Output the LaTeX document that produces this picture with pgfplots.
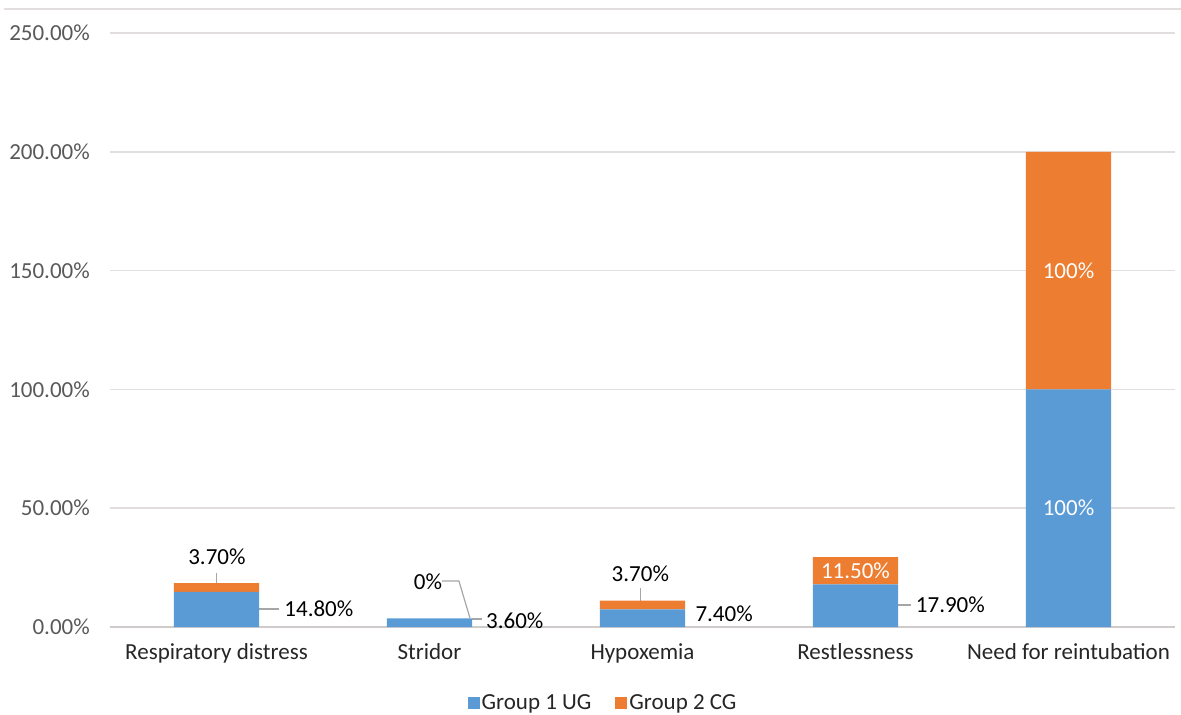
\documentclass[border=0pt]{standalone}
\usepackage{fontspec}
\setmainfont{Carlito}
\usepackage{pgfplots}
\pgfplotsset{compat=1.18}
\definecolor{ugblue}{HTML}{5B9BD5}
\definecolor{cgorange}{HTML}{ED7D31}
\definecolor{gridgray}{HTML}{E3DEDE}
\definecolor{axisgray}{HTML}{D0CBCB}
\definecolor{ticktext}{HTML}{595959}
\definecolor{leadgray}{HTML}{A6A6A6}
\tikzset{lbl/.style={font=\fontsize{23bp}{27bp}\selectfont, inner sep=0pt, text=black},
  ldr/.style={draw=leadgray, line width=1.2bp}}
\begin{document}
\begin{tikzpicture}
\path[use as bounding box] (0,0) rectangle (1181bp,715bp);
\draw[gridgray, line width=2bp] (4bp,706bp) -- (1181bp,706bp);
\begin{axis}[
  at={(110bp,88bp)}, anchor=south west,
  scale only axis, width=1065bp, height=594bp,
  ybar stacked, bar width=0.4,
  xmin=-0.5, xmax=4.5, ymin=0, ymax=250,
  xtick={0,1,2,3,4},
  xticklabels={Respiratory distress,Stridor,Hypoxemia,Restlessness,Need for reintubation},
  ytick={0,50,100,150,200,250},
  yticklabels={0.00\%,50.00\%,100.00\%,150.00\%,200.00\%,250.00\%},
  major tick length=0pt,
  axis x line*=bottom, axis y line*=left,
  x axis line style={draw=axisgray, line width=1.5bp},
  y axis line style={draw=none},
  ymajorgrids, grid style={draw=gridgray, line width=1.5bp},
  tick label style={font=\fontsize{23bp}{27bp}\selectfont, text=ticktext, inner sep=0pt},
  yticklabel style={xshift=-20bp},
  xticklabel style={yshift=-16bp, text=black!85},
  clip=false,
  legend style={at={(0.463,-0.128)}, anchor=center, draw=none, fill=none,
    font=\fontsize{23bp}{27bp}\selectfont, text=black!85,
    legend columns=2,
    /tikz/every even column/.append style={column sep=22bp}},
  legend image code/.code={\fill[#1] (-4bp,-6bp) rectangle (8bp,6bp);},
]
\addplot[fill=ugblue, draw=none] coordinates {(0,14.8) (1,3.6) (2,7.4) (3,17.9) (4,100)};
\addlegendentry{Group 1 UG}
\addplot[fill=cgorange, draw=none] coordinates {(0,3.7) (1,0) (2,3.7) (3,11.5) (4,100)};
\addlegendentry{Group 2 CG}

% Respiratory distress
\draw[ldr] (axis cs:0,22.7) -- (axis cs:0,18.5);
\node[lbl] at (axis cs:0.002,29.5) {3.70\%};
\draw[ldr] (axis cs:0.201,7.6) -- (axis cs:0.295,7.6);
\node[lbl, anchor=west] at (axis cs:0.318,7.6) {14.80\%};
% Stridor
\node[lbl] at (axis cs:0.993,18.9) {0\%};
\draw[ldr] (axis cs:1.059,19.4) -- (axis cs:1.138,19.4) -- (axis cs:1.19,3.8);
\draw[ldr] (axis cs:1.2,3.4) -- (axis cs:1.246,3.4);
\node[lbl, anchor=west] at (axis cs:1.265,2.5) {3.60\%};
% Hypoxemia
\node[lbl] at (axis cs:1.99,22.3) {3.70\%};
\draw[ldr] (axis cs:1.99,16.4) -- (axis cs:1.99,11.1);
\node[lbl, anchor=west] at (axis cs:2.248,5.5) {7.40\%};
% Restlessness
\coordinate (rl) at (axis cs:3,23.6);
\draw[ldr] (axis cs:3.2,9.3) -- (axis cs:3.26,9.3);
\node[lbl, anchor=west] at (axis cs:3.283,9.3) {17.90\%};
% Need for reintubation
\coordinate (nr2) at (axis cs:4,150);
\coordinate (nr1) at (axis cs:4,50);
\end{axis}
\node[lbl, text=white] at (rl) {11.50\%};
\node[lbl, text=white] at (nr2) {100\%};
\node[lbl, text=white] at (nr1) {100\%};
\end{tikzpicture}
\end{document}
